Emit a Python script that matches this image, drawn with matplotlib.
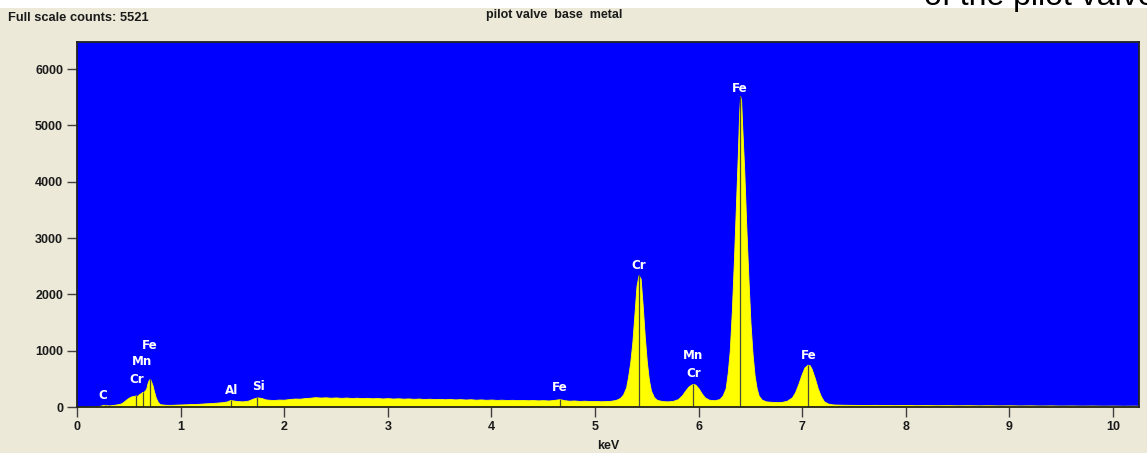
import numpy as np
import matplotlib
matplotlib.use("Agg")
import matplotlib.pyplot as plt
from matplotlib.patches import Rectangle

# ---------------- data ----------------
energy_kev = [
    0.00, 0.04, 0.08, 0.12, 0.16, 0.20, 0.23, 0.25, 0.27, 0.29, 0.31, 0.34, 0.38, 0.42,
    0.44, 0.46, 0.48, 0.50, 0.52, 0.54, 0.56, 0.57, 0.58, 0.60, 0.62, 0.63, 0.64, 0.66,
    0.67, 0.68, 0.69, 0.70, 0.71, 0.72, 0.73, 0.74, 0.76, 0.78,
    0.80, 0.85, 0.90, 0.95, 1.00, 1.05, 1.10, 1.15, 1.20, 1.25, 1.30, 1.35, 1.40, 1.45,
    1.48, 1.50, 1.55, 1.60, 1.65, 1.70, 1.74, 1.78, 1.82, 1.86, 1.90, 1.95, 2.00, 2.05,
    2.10, 2.15, 2.20, 2.25, 2.30, 2.35, 2.40, 2.45, 2.50, 2.55, 2.60, 2.65, 2.70, 2.75,
    2.80, 2.85, 2.90, 2.95, 3.00, 3.05, 3.10, 3.15, 3.20, 3.25, 3.30, 3.35, 3.40, 3.45,
    3.50, 3.55, 3.60, 3.65, 3.70, 3.75, 3.80, 3.85, 3.90, 3.95, 4.00, 4.05, 4.10, 4.15,
    4.20, 4.25, 4.30, 4.35, 4.40, 4.45, 4.50, 4.55, 4.60, 4.66, 4.70, 4.75, 4.80, 4.85,
    4.90, 4.95, 5.00, 5.05, 5.10, 5.15, 5.20,
    5.24, 5.27, 5.30, 5.32, 5.34, 5.36, 5.38, 5.40, 5.42, 5.44, 5.46, 5.48, 5.50, 5.52,
    5.54, 5.57, 5.60, 5.65, 5.70, 5.75, 5.80, 5.84, 5.87, 5.90, 5.93, 5.95, 5.97, 6.00,
    6.03, 6.06, 6.10, 6.15, 6.20, 6.23, 6.26, 6.28, 6.30, 6.32, 6.34, 6.36, 6.38, 6.39,
    6.40, 6.41, 6.42, 6.44, 6.46, 6.48, 6.50, 6.52, 6.54, 6.56, 6.58, 6.61, 6.65, 6.70,
    6.75, 6.80, 6.85, 6.90, 6.93, 6.96, 6.99, 7.02, 7.05, 7.07, 7.09, 7.12, 7.15, 7.18,
    7.21, 7.25,
    7.30, 7.40, 7.50, 7.60, 7.70, 7.80, 7.90, 8.00, 8.10, 8.20, 8.30, 8.40, 8.50, 8.60,
    8.70, 8.80, 8.90, 9.00, 9.10, 9.20, 9.30, 9.40, 9.50, 9.60, 9.70, 9.80, 9.90, 10.00,
    10.10, 10.20, 10.25,
]
counts = [
    0, 2, 5, 8, 10, 14, 25, 35, 40, 30, 28, 35, 45, 60,
    80, 110, 140, 165, 185, 195, 200, 210, 190, 230, 250, 270, 265, 300,
    340, 420, 470, 495, 480, 430, 380, 300, 170, 90,
    50, 40, 38, 42, 45, 48, 52, 55, 60, 66, 70, 78, 85, 100,
    125, 118, 105, 100, 112, 150, 172, 160, 135, 128, 125, 132, 130, 142,
    150, 148, 158, 165, 175, 168, 172, 165, 170, 162, 168, 160, 165, 158,
    163, 155, 160, 152, 158, 150, 155, 148, 152, 145, 150, 142, 147, 140,
    145, 138, 143, 135, 140, 133, 138, 130, 135, 128, 133, 126, 130, 124,
    128, 122, 126, 120, 124, 118, 122, 116, 125, 140, 122, 112, 116, 108,
    112, 105, 108, 102, 105, 110, 125,
    160, 220, 350, 550, 800, 1150, 1650, 2150, 2340, 2280, 1800, 1250, 800, 480,
    290, 170, 125, 105, 100, 108, 140, 210, 290, 360, 400, 410, 395, 330,
    240, 170, 130, 120, 140, 200, 330, 600, 1000, 1700, 2600, 3600, 4600, 5200,
    5521, 5450, 5000, 4200, 3200, 2300, 1500, 950, 560, 330, 200, 130, 100, 92,
    88, 90, 110, 170, 260, 400, 560, 700, 750, 745, 680, 520, 330, 190,
    100, 60,
    45, 40, 38, 36, 38, 35, 33, 36, 32, 34, 31, 33, 30, 32,
    29, 31, 28, 30, 27, 29, 26, 28, 25, 27, 24, 26, 23, 25,
    22, 24, 22,
]

# element marker lines (keV)
marker_kev = [0.27, 0.57, 0.64, 0.70, 1.49, 1.74, 4.66, 5.42, 5.95, 6.40, 7.06]

# peak labels: text, keV, counts (label centre)
label_text = ["C", "Cr", "Mn", "Fe", "Al", "Si", "Fe", "Cr", "Mn", "Cr", "Fe", "Fe"]
label_kev = [0.25, 0.58, 0.63, 0.70, 1.49, 1.75, 4.66, 5.42, 5.95, 5.95, 6.40, 7.06]
label_counts = [200, 480, 800, 1100, 300, 370, 340, 2520, 910, 600, 5660, 920]

x_ticks = [0, 1, 2, 3, 4, 5, 6, 7, 8, 9, 10]
y_ticks = [0, 1000, 2000, 3000, 4000, 5000, 6000]

# ---------------- figure ----------------
BEIGE = "#ECE9D8"
W, H = 1147, 453
fig = plt.figure(figsize=(W / 100, H / 100), dpi=100, facecolor=BEIGE)

# white strip at the very top with the cut-off slide text
fig.patches.append(Rectangle((0, 1 - 8 / H), 1, 8 / H, transform=fig.transFigure,
                             facecolor="white", edgecolor="none", zorder=0))
fig.text(924 / W, 1 - 5 / H, "of the pilot valve", fontsize=23, family="Liberation Sans",
         color="black", ha="left", va="baseline")

ax = fig.add_axes([77 / W, 1 - 407 / H, (1139 - 77) / W, (407 - 42) / H])
ax.set_facecolor("#0000FF")
ax.fill_between(energy_kev, 0, counts, color="#FFFF00", linewidth=0.6, edgecolor="#FFFF00")

# marker lines
mk_h = np.interp(marker_kev, energy_kev, counts)
ax.vlines(marker_kev, 0, mk_h, color="#4a4a3a", linewidth=0.9)

for t, xk, yc in zip(label_text, label_kev, label_counts):
    ax.text(xk, yc, t, color="white", fontsize=8.6, fontweight="bold",
            family="DejaVu Sans", ha="center", va="center")

ax.set_xlim(0, 10.25)
ax.set_ylim(0, 6480)
ax.set_xticks(x_ticks)
ax.set_yticks(y_ticks)
tick_font = dict(family=["Liberation Sans Narrow", "Liberation Sans"], weight="bold", size=9)
ax.set_xticklabels([str(v) for v in x_ticks], **tick_font)
ax.set_yticklabels([str(v) for v in y_ticks], **tick_font)
ax.tick_params(axis="both", direction="out", length=7, width=1, color="#404040",
               labelcolor="#1a1a1a")
ax.tick_params(axis="y", pad=3)
ax.tick_params(axis="x", pad=3)
for s in ax.spines.values():
    s.set_color("#222222")
    s.set_linewidth(1.3)

fig.text(608 / W, 1 - 446 / H, "keV", ha="center", va="center", color="#1a1a1a", **tick_font)
fig.text(8 / W, 1 - 18 / H, "Full scale counts: 5521", ha="left", va="center",
         color="#1a1a1a", family="Liberation Sans", weight="bold", size=9.3)
fig.text(554 / W, 1 - 15 / H, "pilot valve  base  metal", ha="center", va="center",
         color="#1a1a1a", **tick_font)

fig.savefig("out.png", dpi=100, facecolor=BEIGE)
